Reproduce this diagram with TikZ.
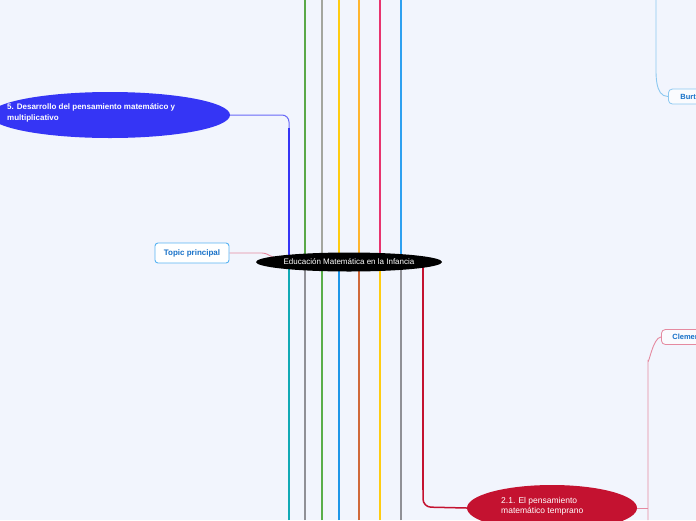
\documentclass[tikz,border=0pt]{standalone}
\usepackage{fontspec}
\setmainfont{Liberation Sans}
\usetikzlibrary{shapes.geometric}
\pgfdeclarelayer{bg}
\pgfsetlayers{bg,main}
\definecolor{bgc}{HTML}{F2F5FD}
\definecolor{cblue}{HTML}{3535F5}
\definecolor{cgreen}{HTML}{5AA848}
\definecolor{cgrayA}{HTML}{A3A69E}
\definecolor{cyellow}{HTML}{FFCC11}
\definecolor{corange}{HTML}{FFB52E}
\definecolor{cpink}{HTML}{E8336E}
\definecolor{csky}{HTML}{2EA0F0}
\definecolor{cteal}{HTML}{12A9B5}
\definecolor{cgrayB}{HTML}{909096}
\definecolor{cgreen2}{HTML}{5AAE4A}
\definecolor{cblue2}{HTML}{1E96E8}
\definecolor{cbrown}{HTML}{D0693A}
\definecolor{cred}{HTML}{C41230}
\definecolor{lpink}{HTML}{E58AA0}
\definecolor{lsky}{HTML}{8CC8F0}
\definecolor{tblue}{HTML}{1670C8}
\tikzset{
  branch/.style={line width=2.4pt},
  thin/.style={line width=0.9pt},
  leafbox/.style={draw, rounded corners=4pt, fill=white!60!bgc, line width=0.8pt,
     font=\bfseries\fontsize{7.5}{8}\selectfont, text=tblue, inner sep=0pt,
     minimum height=15pt, anchor=west, align=left, text depth=0pt},
  bigell/.style={ellipse, inner sep=0pt, text=white, align=left}
}
\begin{document}
\begin{tikzpicture}[x=1pt,y=-1pt]
\useasboundingbox (0,0) rectangle (696,520);
\clip (0,0) rectangle (696,520);

% nodes
\node[bigell, fill=black, minimum width=186pt, minimum height=19pt,
      font=\fontsize{8}{9}\selectfont, align=center] (main) at (349,262) {Educación Matemática en la Infancia};
\node[bigell, fill=cblue, minimum width=240pt, minimum height=46pt] (e5) at (110,115) {};
\node[text=white, anchor=north west, align=left, inner sep=0pt,
      font=\bfseries\fontsize{8}{11}\selectfont] (t5) at (7,103) {5. Desarrollo del pensamiento matemático y\\multiplicativo};
\node[bigell, fill=cred, minimum width=170pt, minimum height=46pt] (e21) at (552,508) {};
\node[text=white, anchor=north west, align=left, inner sep=0pt,
      font=\fontsize{8.5}{10.5}\selectfont] (t21) at (501,497) {2.1. El pensamiento\\matemático temprano};
\node[draw=csky!80!white, rounded corners=3pt, fill=white, line width=0.9pt,
      font=\bfseries\fontsize{8}{9}\selectfont, text=tblue,
      minimum width=74pt, minimum height=20pt, inner sep=0pt] (tp) at (192,253) {Topic principal};
\node[leafbox, draw=lpink, minimum width=60pt, text width=52pt] (cl) at (661,337) {\hspace*{7pt}Clemente};
\node[leafbox, draw=lsky, minimum width=60pt, text width=52pt] (bu) at (668,96.5) {\hspace*{8pt}Burton};

\begin{pgfonlayer}{bg}
\fill[bgc] (0,0) rectangle (696,520);
% top branches
\foreach \x/\c in {305/cgreen,322/cgrayA,339/cyellow,359/corange,380/cpink,401/csky}{
  \coordinate (top\x) at (\x,0);
  \draw[branch,\c] (top\x) -- (top\x |- main);
}
% bottom branches
\foreach \x/\c in {289/cteal,305/cgrayB,322/cgreen2,339/cblue2,359/cbrown,380/cyellow,401/cgrayB}{
  \coordinate (bot\x) at (\x,520);
  \draw[branch,\c] (bot\x) -- (bot\x |- main);
}
% branch 5
\coordinate (b5) at (289,128);
\coordinate (b21) at (423,490);
\draw[cblue!75!white, line width=1pt, rounded corners=7pt] (e5.east) -- (289,115) -- (289,135);
\draw[branch, cblue] (b5) -- (b5 |- main);
% branch 2.1
\draw[branch, cred] (b21 |- main) -- (b21);
\draw[cred, line width=1.5pt, rounded corners=8pt] (423,488) -- (423,507) -- (e21.west);
% topic principal
\coordinate (tpend) at (273,257);
\draw[lpink, line width=0.9pt] (tp.east) -- (262,253) to[out=0,in=160] (tpend);
% 2.1 -> Clemente
\coordinate (clb) at (648,520);
\draw[lpink, thin] (e21.east) -- (648,508);
\draw[lpink, thin] (clb) -- (648,360) to[out=-90,in=180,looseness=0.8] (cl.west);
% Burton
\coordinate (but) at (656,0);
\draw[lsky, thin] (but) -- (656,60) to[out=-90,in=180,looseness=0.9] (bu.west);
\end{pgfonlayer}
\end{tikzpicture}
\end{document}
